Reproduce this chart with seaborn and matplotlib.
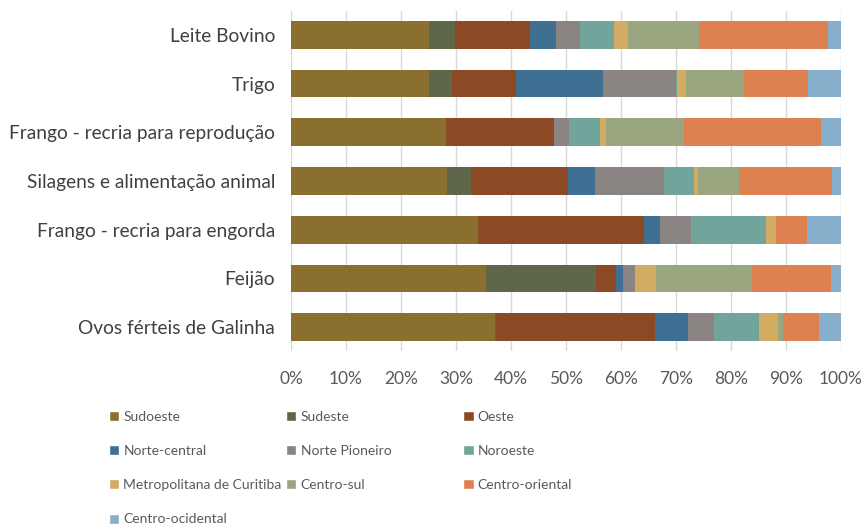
import pandas as pd
import matplotlib.pyplot as plt
import seaborn as sns
from matplotlib.patches import Patch
from matplotlib.ticker import FuncFormatter

crops = ["Leite Bovino", "Trigo", "Frango - recria para reprodução",
         "Silagens e alimentação animal", "Frango - recria para engorda",
         "Feijão", "Ovos férteis de Galinha"]

regions = ["Sudoeste", "Sudeste", "Oeste", "Norte-central", "Norte Pioneiro",
           "Noroeste", "Metropolitana de Curitiba", "Centro-sul",
           "Centro-oriental", "Centro-ocidental"]

# participação (%) de cada região por produto
sudoeste = [25.0, 25.0, 28.1, 28.4, 34.0, 35.5, 37.2]
sudeste = [4.8, 4.3, 0.1, 4.4, 0.0, 19.9, 0.2]
oeste = [13.7, 11.5, 19.5, 17.6, 30.2, 3.7, 28.9]
norte_central = [4.6, 15.9, 0.0, 5.0, 2.8, 1.3, 6.0]
norte_pioneiro = [4.4, 13.3, 2.8, 12.4, 5.8, 2.1, 4.6]
noroeste = [6.2, 0.1, 5.6, 5.6, 13.5, 0.0, 8.3]
metropolitana = [2.6, 1.6, 1.1, 0.7, 1.9, 3.9, 3.4]
centro_sul = [12.8, 10.5, 14.1, 7.4, 0.0, 17.4, 0.9]
centro_oriental = [23.6, 11.7, 24.9, 16.9, 5.6, 14.3, 6.6]
centro_ocidental = [2.3, 6.0, 3.7, 1.7, 6.2, 1.9, 4.0]

colors = ["#8B6F2E", "#5E6749", "#8B4A24", "#3F7094", "#8A8483",
          "#71A59B", "#D1AC62", "#9AA680", "#DD8150", "#87AECB"]

df = pd.DataFrame(
    [sudoeste, sudeste, oeste, norte_central, norte_pioneiro, noroeste,
     metropolitana, centro_sul, centro_oriental, centro_ocidental],
    index=regions, columns=crops).T
df = df.div(df.sum(axis=1), axis=0) * 100
cum = df.cumsum(axis=1)

sns.set_style("white")
plt.rcParams['font.family'] = ['Lato', 'DejaVu Sans']

fig, ax = plt.subplots(figsize=(8.64, 5.28), dpi=100)
fig.subplots_adjust(left=0.3368, right=0.9734, top=0.980, bottom=0.3343)

# empilhado: desenha os acumulados do maior para o menor
for region, color in reversed(list(zip(regions, colors))):
    sns.barplot(x=cum[region].values, y=crops, color=color, saturation=1,
                width=0.57, orient="h", ax=ax, linewidth=0)

ax.set_xlim(0, 100)
ax.set_xticks(range(0, 101, 10))
ax.xaxis.set_major_formatter(FuncFormatter(lambda v, p: f"{int(v)}%"))
ax.grid(axis="x", color="#D9D9D9", linewidth=1)
ax.set_axisbelow(True)
for s in ax.spines.values():
    s.set_visible(False)
ax.set_xlabel("")
ax.set_ylabel("")
ax.tick_params(axis="x", length=0, pad=14, labelsize=12.5, labelcolor="#595959")
ax.tick_params(axis="y", length=0, pad=11.5, labelsize=13.8, labelcolor="#404040")

handles = [Patch(facecolor=c, label=r) for r, c in zip(regions, colors)]
cols = [[0, 3, 6, 9], [1, 4, 7], [2, 5, 8]]
xs = [0.126, 0.331, 0.536]
for idx, x in zip(cols, xs):
    fig.legend(handles=[handles[i] for i in idx], loc="upper left",
               bbox_to_anchor=(x, 0.222), frameon=False, fontsize=10,
               labelcolor="#595959", handlelength=0.75, handleheight=0.75,
               handletextpad=0.3, labelspacing=1.6, borderaxespad=0,
               borderpad=0)

plt.savefig("out.png", dpi=100)
